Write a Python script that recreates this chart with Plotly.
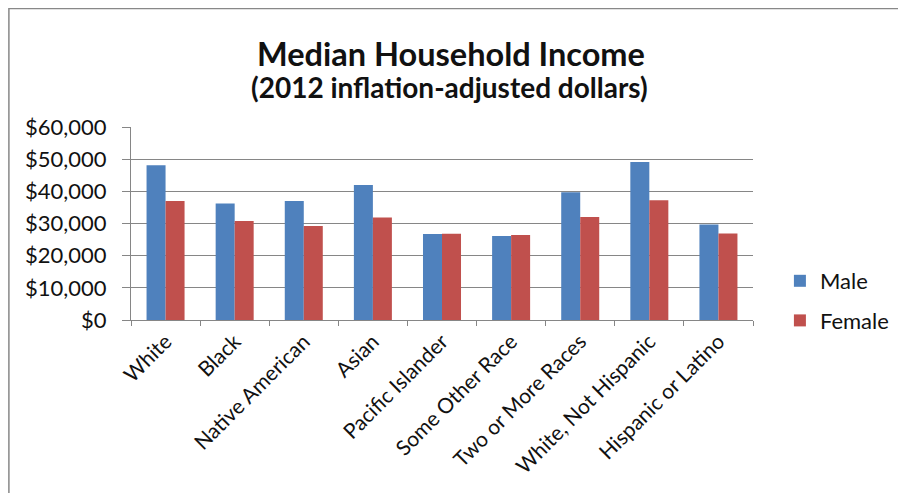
import plotly.graph_objects as go

categories = ["White", "Black", "Native American", "Asian", "Pacific Islander",
              "Some Other Race", "Two or More Races", "White, Not Hispanic", "Hispanic or Latino"]
male = [48100, 36200, 37000, 42000, 26700, 26100, 39700, 49100, 29700]
female = [37000, 30800, 29200, 31900, 26800, 26400, 32000, 37200, 26900]
y_ticks = [0, 10000, 20000, 30000, 40000, 50000, 60000]
y_tick_text = ["$0", "$10,000", "$20,000", "$30,000", "$40,000", "$50,000", "$60,000"]

FONT = "Lato"
# page body has an 8px margin, so figure coordinates are reference minus 8
W, H = 898, 485
L, R, T, B = 123, 747, 119, 312

fig = go.Figure()
fig.add_trace(go.Bar(name="Male", x=categories, y=male, marker_color="#4F81BD",
                     marker_line_width=0, legendgroup="m"))
fig.add_trace(go.Bar(name="Female", x=categories, y=female, marker_color="#C0504D",
                     marker_line_width=0, legendgroup="f"))

def px(x):
    return (x - L) / (R - L)

def py(y):
    return (B - y) / (B - T)

fig.update_layout(
    width=W, height=H,
    margin=dict(l=L, r=W - R, t=T, b=H - B, pad=0),
    paper_bgcolor="white", plot_bgcolor="white",
    barmode="group", bargap=0.45, bargroupgap=0,
    font=dict(family=FONT, color="#111111"),
    showlegend=True,
    legend=dict(x=px(774), y=py(252), xanchor="left", yanchor="top",
                font=dict(size=22, family=FONT), tracegroupgap=8,
                itemwidth=30, bgcolor="rgba(0,0,0,0)"),
    xaxis=dict(showgrid=False, showline=True, linecolor="#868686", linewidth=1,
               ticks="outside", tickson="boundaries", ticklen=5, tickcolor="#868686",
               tickangle=-45, tickfont=dict(size=21, family=FONT), fixedrange=True,
               automargin=False),
    yaxis=dict(range=[0, 60000], tickvals=y_ticks, ticktext=y_tick_text,
               showgrid=True, gridcolor="#868686", gridwidth=1,
               showline=True, linecolor="#868686", linewidth=1,
               ticks="outside", ticklen=8, tickcolor="#868686", ticklabelstandoff=11,
               tickfont=dict(size=22, family=FONT), zeroline=False, fixedrange=True,
               automargin=False),
    annotations=[
        dict(text="<b>Median Household Income</b>", x=px(444), y=py(45), xref="paper", yref="paper",
             showarrow=False, font=dict(size=32.5, family=FONT), xanchor="center", yanchor="middle"),
        dict(text="<b>(2012 inflation-adjusted dollars)</b>", x=px(443), y=py(79), xref="paper", yref="paper",
             showarrow=False, font=dict(size=28, family=FONT), xanchor="center", yanchor="middle"),
    ],
    shapes=[
        dict(type="rect", xref="paper", yref="paper", x0=px(0.5), x1=px(920), y0=py(520), y1=py(0.5),
             line=dict(color="#888888", width=1.5), fillcolor="rgba(0,0,0,0)", layer="below"),
    ],
)

fig.write_html("out.html")
